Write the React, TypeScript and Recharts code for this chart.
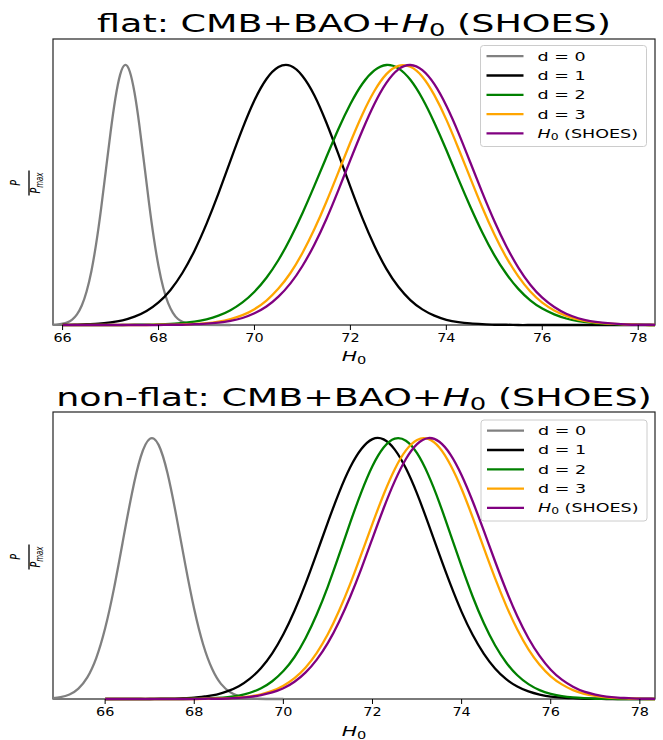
import React from "react";
import { Line, LineChart, XAxis, YAxis } from "recharts";

// the reference figure is stretched sideways, so all text is scaled on x
const SX = 1.46;
const FONT = "'DejaVu Sans', sans-serif";

const seriesNames = ["d = 0", "d = 1", "d = 2", "d = 3", "SHOES"];
const seriesColors = ["#808080", "#000000", "#008000", "#ffa500", "#800080"];
const xTicks = [66, 68, 70, 72, 74, 76, 78];

// shared H0 grid for the wide curves
const h0Grid = [
  66, 66.25, 66.5, 66.75, 67, 67.25, 67.5, 67.75, 68, 68.25, 68.5, 68.75, 69, 69.25, 69.5, 69.75,
  70, 70.25, 70.5, 70.75, 71, 71.25, 71.5, 71.75, 72, 72.25, 72.5, 72.75, 73, 73.25, 73.5, 73.75,
  74, 74.25, 74.5, 74.75, 75, 75.25, 75.5, 75.75, 76, 76.25, 76.5, 76.75, 77, 77.25, 77.5, 77.75,
  78, 78.25, 78.5,
];

// flat: CMB+BAO+H0 (SHOES)
const flatNarrowGrid = [
  65.8, 65.9, 66, 66.1, 66.2, 66.3, 66.4, 66.5, 66.6, 66.7, 66.8, 66.9, 67, 67.1, 67.2, 67.3,
  67.4, 67.5, 67.6, 67.7, 67.8, 67.9, 68, 68.1, 68.2, 68.3, 68.4, 68.5, 68.6, 68.7, 68.8, 69.5,
];
const flatD0 = [
  0.001, 0.002, 0.005, 0.01, 0.021, 0.041, 0.075, 0.129, 0.207, 0.313, 0.444, 0.592, 0.741, 0.871,
  0.963, 1.0, 0.975, 0.893, 0.769, 0.622, 0.472, 0.337, 0.226, 0.142, 0.084, 0.047, 0.024, 0.012,
  0.006, 0.002, 0.001, 0,
];
const flatD1 = [
  0.001, 0.001, 0.003, 0.005, 0.01, 0.018, 0.032, 0.054, 0.087, 0.135, 0.201, 0.286, 0.389, 0.506,
  0.632, 0.755, 0.864, 0.946, 0.992, 0.997, 0.958, 0.883, 0.778, 0.657, 0.531, 0.411, 0.305, 0.216,
  0.147, 0.096, 0.06, 0.036, 0.02, 0.011, 0.006, 0.003, 0.001, 0.001, 0, 0, 0, 0, 0, 0, 0, 0, 0, 0,
  0, 0, 0,
];
const flatD2 = [
  0, 0, 0, 0, 0, 0, 0.001, 0.001, 0.002, 0.004, 0.008, 0.013, 0.022, 0.036, 0.057, 0.087, 0.128,
  0.182, 0.25, 0.334, 0.43, 0.536, 0.646, 0.754, 0.85, 0.928, 0.979, 1.0, 0.987, 0.943, 0.871,
  0.778, 0.673, 0.562, 0.455, 0.356, 0.269, 0.197, 0.139, 0.095, 0.063, 0.041, 0.025, 0.015, 0.009,
  0.005, 0.003, 0.001, 0.001, 0, 0,
];
const flatD3 = [
  0, 0, 0, 0, 0, 0, 0, 0, 0.001, 0.001, 0.002, 0.004, 0.007, 0.013, 0.023, 0.038, 0.061, 0.094,
  0.14, 0.2, 0.277, 0.369, 0.474, 0.588, 0.703, 0.81, 0.9, 0.965, 0.997, 0.993, 0.955, 0.884, 0.79,
  0.68, 0.565, 0.452, 0.349, 0.26, 0.187, 0.129, 0.086, 0.056, 0.035, 0.021, 0.012, 0.007, 0.004,
  0.002, 0.001, 0, 0,
];
const flatShoes = [
  0, 0, 0, 0, 0, 0, 0, 0, 0, 0.001, 0.001, 0.003, 0.005, 0.009, 0.016, 0.027, 0.045, 0.071, 0.109,
  0.16, 0.227, 0.31, 0.408, 0.519, 0.635, 0.748, 0.85, 0.931, 0.983, 1.0, 0.98, 0.926, 0.843, 0.74,
  0.625, 0.509, 0.4, 0.303, 0.221, 0.155, 0.105, 0.069, 0.043, 0.026, 0.015, 0.009, 0.005, 0.002,
  0.001, 0.001, 0,
];

// non-flat: CMB+BAO+H0 (SHOES)
const nonflatNarrowGrid = [
  64.8, 65, 65.2, 65.4, 65.6, 65.8, 66, 66.2, 66.4, 66.6, 66.8, 67, 67.2, 67.4, 67.6, 67.8, 68,
  68.2, 68.4, 68.6, 68.8, 69, 69.2, 69.4, 70,
];
const nonflatD0 = [
  0.003, 0.007, 0.017, 0.04, 0.083, 0.157, 0.271, 0.425, 0.607, 0.787, 0.929, 0.997, 0.974, 0.865,
  0.699, 0.514, 0.344, 0.209, 0.116, 0.058, 0.027, 0.011, 0.004, 0.001, 0,
];
const nonflatD1 = [
  0, 0, 0, 0, 0, 0.001, 0.001, 0.003, 0.005, 0.01, 0.017, 0.03, 0.049, 0.078, 0.119, 0.175, 0.248,
  0.338, 0.443, 0.559, 0.678, 0.791, 0.888, 0.958, 0.996, 0.995, 0.956, 0.884, 0.787, 0.673, 0.554,
  0.439, 0.334, 0.245, 0.173, 0.117, 0.076, 0.048, 0.029, 0.017, 0.009, 0.005, 0.003, 0.001, 0.001,
  0, 0, 0, 0, 0, 0,
];
const nonflatD2 = [
  0, 0, 0, 0, 0, 0, 0, 0, 0.001, 0.002, 0.004, 0.007, 0.013, 0.024, 0.041, 0.068, 0.107, 0.161,
  0.234, 0.325, 0.432, 0.552, 0.676, 0.793, 0.893, 0.964, 0.998, 0.99, 0.942, 0.86, 0.753, 0.631,
  0.508, 0.392, 0.29, 0.206, 0.14, 0.091, 0.057, 0.034, 0.02, 0.011, 0.006, 0.003, 0.001, 0.001, 0,
  0, 0, 0, 0,
];
const nonflatD3 = [
  0, 0, 0, 0, 0, 0, 0, 0, 0, 0.001, 0.002, 0.003, 0.006, 0.01, 0.018, 0.031, 0.051, 0.08, 0.121,
  0.177, 0.249, 0.338, 0.441, 0.555, 0.672, 0.784, 0.881, 0.953, 0.993, 0.997, 0.964, 0.897, 0.805,
  0.695, 0.578, 0.463, 0.358, 0.266, 0.19, 0.131, 0.087, 0.056, 0.034, 0.02, 0.012, 0.006, 0.003,
  0.002, 0.001, 0, 0,
];
const nonflatShoes = [
  0, 0, 0, 0, 0, 0, 0, 0, 0, 0.001, 0.001, 0.002, 0.004, 0.008, 0.015, 0.025, 0.041, 0.066, 0.102,
  0.151, 0.215, 0.296, 0.392, 0.5, 0.616, 0.731, 0.835, 0.92, 0.977, 1.0, 0.986, 0.937, 0.858,
  0.757, 0.644, 0.528, 0.417, 0.317, 0.233, 0.165, 0.112, 0.074, 0.047, 0.028, 0.017, 0.009, 0.005,
  0.003, 0.001, 0.001, 0,
];

const toPoints = (xs: number[], ys: number[]) => xs.map((h0, i) => ({ h0, p: ys[i] }));

const flatSeries = [
  toPoints(flatNarrowGrid, flatD0),
  toPoints(h0Grid, flatD1),
  toPoints(h0Grid, flatD2),
  toPoints(h0Grid, flatD3),
  toPoints(h0Grid, flatShoes),
];
const nonflatSeries = [
  toPoints(nonflatNarrowGrid, nonflatD0),
  toPoints(h0Grid, nonflatD1),
  toPoints(h0Grid, nonflatD2),
  toPoints(h0Grid, nonflatD3),
  toPoints(h0Grid, nonflatShoes),
];

const StretchTick = (props: any) => {
  const { x, y, payload } = props;
  return (
    <g transform={`translate(${x},${y}) scale(1.2,1)`}>
      <text x={0} y={0} dy={9.5} textAnchor="middle" fontSize={12} fill="#000" fontFamily={FONT}>
        {payload.value}
      </text>
    </g>
  );
};

const Panel = ({ top, marginTop, marginBottom, domain, series }: any) => (
  <div style={{ position: "absolute", left: 0, top, width: 663, height: 370 }}>
    <LineChart width={663} height={370} margin={{ top: marginTop, right: 8, bottom: marginBottom, left: 53 }}>
      <XAxis
        dataKey="h0"
        type="number"
        domain={domain}
        allowDataOverflow
        ticks={xTicks}
        interval={0}
        height={30}
        axisLine={false}
        tickLine={{ stroke: "#000" }}
        tickSize={5}
        tick={(p: any) => <StretchTick {...p} />}
      />
      <YAxis hide type="number" domain={[0, 1.1]} />
      {series.map((pts: any, i: number) => (
        <Line
          key={seriesNames[i]}
          data={pts}
          dataKey="p"
          name={seriesNames[i]}
          type="natural"
          stroke={seriesColors[i]}
          strokeWidth={2.3}
          dot={false}
          isAnimationActive={false}
        />
      ))}
    </LineChart>
  </div>
);

const Title = ({ cx, y, prefix }: any) => (
  <g transform={`translate(${cx},${y}) scale(1.52,1)`}>
    <text x={0} y={0} textAnchor="middle" fontSize={24} fill="#000">
      {prefix}CMB+BAO+<tspan fontStyle="italic">H</tspan>
      <tspan fontSize={17} dy={3.5}>0</tspan>
      <tspan dy={-3.5}> (SHOES)</tspan>
    </text>
  </g>
);

const XLabel = ({ cx, y }: any) => (
  <g transform={`translate(${cx},${y}) scale(${SX},1)`}>
    <text x={0} y={0} textAnchor="middle" fontSize={14} fill="#000">
      <tspan fontStyle="italic">H</tspan>
      <tspan fontSize={10} dy={3}>0</tspan>
    </text>
  </g>
);

const YLabel = ({ x, y }: any) => (
  <g transform={`translate(${x},${y}) scale(${SX},1) rotate(-90)`}>
    <text x={0} y={-6} textAnchor="middle" fontSize={9.5} fontStyle="italic" fill="#000">P</text>
    <line x1={-12.5} x2={12.5} y1={0} y2={0} stroke="#000" strokeWidth={0.9} />
    <text x={0} y={7.5} textAnchor="middle" fontSize={9.5} fontStyle="italic" fill="#000">
      P<tspan fontSize={7} dy={1.8}>max</tspan>
    </text>
  </g>
);

const LegendBox = ({ x, y }: any) => (
  <g>
    <rect x={x} y={y} width={166} height={101} rx={3} fill="#fff" fillOpacity={0.8} stroke="#cccccc" />
    {seriesNames.map((name, i) => {
      const cy = y + 10.7 + i * 19.3;
      return (
        <g key={name}>
          <line x1={x + 6} x2={x + 43} y1={cy} y2={cy} stroke={seriesColors[i]} strokeWidth={2.3} />
          <g transform={`translate(${x + 57},${cy + 4.4}) scale(${SX},1)`}>
            <text x={0} y={0} fontSize={12} fill="#000">
              {name === "SHOES" ? (
                <>
                  <tspan fontStyle="italic">H</tspan>
                  <tspan fontSize={8.5} dy={2}>0</tspan>
                  <tspan dy={-2}> (SHOES)</tspan>
                </>
              ) : (
                name
              )}
            </text>
          </g>
        </g>
      );
    })}
  </g>
);

export default function App() {
  return (
    <div style={{ position: "absolute", left: 0, top: 0, width: 663, height: 740, background: "#fff", fontFamily: FONT }}>
      <svg width={663} height={740} style={{ position: "absolute", left: 0, top: 0 }} fontFamily={FONT}>
        <rect x={53} y={39} width={602} height={286} fill="none" stroke="#222" strokeWidth={1.2} />
        <rect x={53} y={412} width={602} height={287} fill="none" stroke="#222" strokeWidth={1.2} />
        <Title cx={354} y={32} prefix="flat: " />
        <Title cx={354} y={406} prefix="non-flat: " />
        <XLabel cx={354} y={361} />
        <XLabel cx={354} y={736} />
        <YLabel x={29} y={183} />
        <YLabel x={29} y={557} />
      </svg>
      <Panel top={0} marginTop={39} marginBottom={15} domain={[65.8, 78.35]} series={flatSeries} />
      <Panel top={370} marginTop={42} marginBottom={11} domain={[64.83, 78.34]} series={nonflatSeries} />
      <svg width={663} height={740} style={{ position: "absolute", left: 0, top: 0, pointerEvents: "none" }} fontFamily={FONT}>
        <LegendBox x={480.5} y={45.5} />
        <LegendBox x={481} y={420} />
      </svg>
    </div>
  );
}
